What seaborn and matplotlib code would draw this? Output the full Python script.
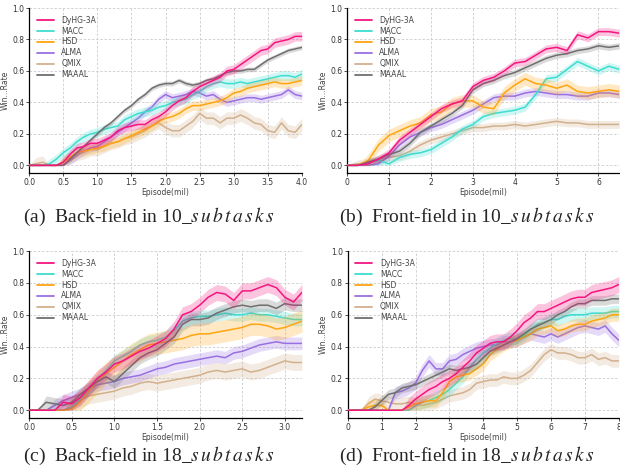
import numpy as np
import matplotlib
matplotlib.use("Agg")
import matplotlib.pyplot as plt
import seaborn as sns

METHODS = ["DyHG-3A", "MACC", "HSD", "ALMA", "QMIX", "MAAAL"]
COLORS = ["#f5157f", "#3fdcd0", "#ffa511", "#9a6fe0", "#d2b08c", "#6f6f6f"]

# ---------------- (a) Back-field in 10 subtasks ----------------
A_X = np.round(np.arange(0, 4.01, 0.1), 2)
A_DYHG = [0, 0, 0, 0, 0, .02, .07, .11, .12, .14, .14, .16, .18, .22, .24, .25, .26, .26, .29, .31,
          .34, .38, .41, .43, .47, .50, .52, .54, .56, .60, .61, .64, .67, .70, .73, .74, .78, .79, .80, .82, .82]
A_MACC = [0, 0, 0, .01, .04, .08, .11, .15, .18, .20, .21, .23, .24, .25, .29, .31, .33, .34, .35, .37,
          .38, .40, .41, .42, .45, .47, .50, .52, .53, .52, .52, .53, .52, .53, .54, .55, .56, .57, .57, .56, .58]
A_HSD = [0, 0, 0, 0, 0, .02, .05, .08, .09, .10, .11, .12, .14, .15, .17, .19, .21, .23, .25, .28,
         .30, .31, .33, .36, .38, .38, .39, .40, .41, .43, .46, .47, .49, .50, .51, .52, .53, .52, .52, .53, .54]
A_ALMA = [0, 0, 0, 0, 0, 0, .03, .06, .09, .11, .12, .15, .18, .21, .24, .27, .30, .34, .37, .42,
          .45, .43, .44, .45, .47, .46, .44, .45, .42, .40, .41, .42, .43, .43, .42, .43, .44, .45, .48, .45, .44]
A_QMIX = [0, .01, .02, 0, 0, .02, .05, .07, .08, .10, .10, .12, .14, .15, .17, .18, .20, .22, .25, .27,
          .24, .22, .22, .25, .28, .33, .30, .30, .27, .30, .30, .32, .30, .27, .26, .22, .21, .27, .22, .21, .26]
A_MAAAL = [0, 0, 0, 0, 0, 0, .04, .08, .12, .16, .20, .24, .27, .31, .35, .38, .42, .45, .49, .51,
           .52, .52, .54, .52, .51, .52, .54, .55, .57, .59, .60, .60, .61, .61, .64, .67, .69, .71, .73, .74, .75]
A_BAND = [.03, .03, .03, .025, .04, .015]

# ---------------- (b) Front-field in 10 subtasks ----------------
B_X = np.round(np.arange(0, 6.51, 0.25), 2)
B_DYHG = [0, 0, .01, .04, .08, .16, .21, .26, .31, .36, .39, .41, .50, .54, .56, .60, .65, .66, .70, .74,
          .75, .73, .83, .81, .85, .85, .84]
B_MACC = [0, 0, .02, .03, .01, .05, .07, .08, .10, .14, .18, .23, .26, .31, .33, .34, .35, .37, .45, .55,
          .56, .61, .66, .63, .60, .63, .61]
B_HSD = [0, 0, .03, .13, .19, .22, .25, .27, .32, .34, .39, .41, .41, .37, .36, .46, .51, .55, .52, .51,
         .49, .51, .47, .46, .47, .48, .47]
B_ALMA = [0, 0, 0, .01, .06, .13, .18, .21, .24, .26, .29, .32, .35, .39, .43, .44, .44, .46, .47, .46,
          .45, .45, .44, .44, .46, .46, .45]
B_QMIX = [0, .01, .02, .04, .05, .06, .09, .13, .16, .18, .20, .22, .24, .24, .25, .25, .26, .25, .26, .27,
          .28, .27, .27, .26, .26, .26, .26]
B_MAAAL = [0, 0, .02, .04, .07, .09, .14, .21, .25, .29, .33, .38, .48, .52, .54, .57, .59, .62, .65, .68,
           .70, .71, .73, .74, .76, .75, .76]
B_BAND = [.025, .025, .04, .025, .025, .02]

# ---------------- (c) Back-field in 18 subtasks ----------------
C_X = np.round(np.arange(0, 3.21, 0.1), 2)
C_DYHG = [0, 0, 0, 0, .05, .04, .08, .14, .20, .24, .29, .31, .34, .37, .39, .42, .45, .51, .60, .62,
          .66, .71, .74, .73, .69, .75, .75, .77, .79, .77, .71, .68, .74]
C_MACC = [0, 0, 0, 0, 0, .02, .07, .13, .19, .25, .31, .34, .37, .41, .43, .44, .46, .50, .56, .58,
          .59, .59, .60, .61, .60, .60, .61, .60, .60, .59, .58, .57, .57]
C_HSD = [0, 0, 0, 0, 0, .01, .05, .12, .18, .23, .27, .31, .35, .38, .41, .42, .43, .44, .45, .47,
         .48, .48, .49, .50, .51, .52, .54, .54, .53, .51, .52, .54, .56]
C_ALMA = [0, 0, 0, .03, .06, .08, .10, .13, .16, .17, .18, .20, .21, .22, .24, .26, .27, .29, .30, .31,
          .32, .33, .34, .33, .36, .37, .39, .41, .42, .43, .42, .42, .42]
C_QMIX = [0, 0, 0, 0, 0, .02, .06, .09, .10, .11, .12, .14, .15, .17, .18, .17, .18, .19, .20, .21,
          .22, .24, .25, .24, .25, .26, .24, .25, .27, .29, .31, .30, .30]
C_MAAAL = [0, 0, .05, .04, .03, .05, .10, .14, .18, .21, .18, .23, .28, .33, .36, .38, .42, .46, .54, .57,
           .57, .58, .61, .63, .65, .66, .65, .66, .66, .64, .67, .66, .66]
C_BAND = [.05, .04, .07, .04, .05, .04]

# ---------------- (d) Front-field in 18 subtasks ----------------
D_X = np.round(np.arange(0, 8.01, 0.2), 2)
D_DYHG = [0, 0, 0, 0, 0, 0, 0, 0, 0, .03, .07, .10, .13, .15, .18, .20, .23, .27, .31, .36,
          .39, .42, .43, .43, .46, .50, .55, .58, .62, .62, .64, .66, .68, .70, .71, .71, .74, .75, .76, .77, .79]
D_MACC = [0, 0, 0, 0, 0, 0, 0, 0, 0, 0, .03, .05, .06, .08, .10, .13, .17, .21, .27, .32,
          .36, .39, .42, .44, .45, .45, .47, .51, .54, .55, .57, .57, .59, .60, .60, .60, .61, .61, .61, .62, .62]
D_HSD = [0, 0, 0, .02, .03, .03, 0, 0, 0, .02, .04, .05, .06, .06, .11, .18, .21, .22, .23, .26,
         .29, .35, .38, .41, .43, .44, .46, .48, .51, .52, .53, .50, .51, .53, .54, .54, .56, .57, .58, .60, .60]
D_ALMA = [0, 0, 0, 0, 0, 0, 0, .11, .12, .14, .17, .25, .31, .26, .26, .31, .32, .35, .37, .39,
          .40, .41, .41, .43, .43, .44, .46, .48, .47, .46, .48, .46, .48, .50, .52, .53, .52, .51, .53, .48, .44]
D_QMIX = [0, 0, 0, .04, .07, .06, .05, .04, .04, .05, .04, .03, .04, .05, .07, .09, .10, .11, .13, .17,
          .18, .19, .19, .21, .20, .20, .22, .25, .30, .35, .38, .36, .36, .35, .33, .33, .35, .32, .33, .31, .31]
D_MAAAL = [0, 0, 0, 0, .02, .06, .10, .11, .14, .15, .16, .18, .20, .22, .24, .26, .25, .26, .27, .29,
           .33, .37, .39, .41, .43, .45, .48, .51, .53, .55, .57, .60, .62, .65, .67, .67, .69, .69, .69, .70, .70]
D_BAND = [.05, .04, .04, .04, .04, .03]

SUB = r"$s\,u\,b\,t\,a\,s\,k\,s$"
CAPTIONS = ["(a)  Back-field in 10$\\_$" + SUB, "(b)  Front-field in 10$\\_$" + SUB,
            "(c)  Back-field in 18$\\_$" + SUB, "(d)  Front-field in 18$\\_$" + SUB]

sns.set_theme(style="ticks")
plt.rcParams["font.family"] = ["DejaVu Sans"]
plt.rcParams["mathtext.fontset"] = "stix"

fig = plt.figure(figsize=(6.2, 4.72), dpi=100)

panels = [
    (A_X, [A_DYHG, A_MACC, A_HSD, A_ALMA, A_QMIX, A_MAAAL], A_BAND, (0, 4.0),
     [0, .5, 1, 1.5, 2, 2.5, 3, 3.5, 4.0], "%.1f", [0.047, 0.633, 0.440, 0.350]),
    (B_X, [B_DYHG, B_MACC, B_HSD, B_ALMA, B_QMIX, B_MAAAL], B_BAND, (0, 6.5),
     [0, 1, 2, 3, 4, 5, 6], "%d", [0.560, 0.633, 0.439, 0.350]),
    (C_X, [C_DYHG, C_MACC, C_HSD, C_ALMA, C_QMIX, C_MAAAL], C_BAND, (0, 3.2),
     [0, .5, 1, 1.5, 2, 2.5, 3], "%.1f", [0.047, 0.114, 0.440, 0.354]),
    (D_X, [D_DYHG, D_MACC, D_HSD, D_ALMA, D_QMIX, D_MAAAL], D_BAND, (0, 8),
     [0, 1, 2, 3, 4, 5, 6, 7, 8], "%d", [0.561, 0.114, 0.437, 0.354]),
]

zorders = [8, 5, 6, 4, 3, 7]
for (x, series, bands, xlim, xticks, fmt, rect) in panels:
    ax = fig.add_axes(rect)
    for name, y, w, c, z in zip(METHODS, series, bands, COLORS, zorders):
        y = np.asarray(y, dtype=float)
        m = (y > 0).astype(float)
        ax.fill_between(x, np.clip(y - w * m, 0, None), y + w * m, color=c, alpha=0.25, lw=0, zorder=z - 0.5)
        sns.lineplot(x=x, y=y, ax=ax, color=c, lw=1.1, label=name, zorder=z)
    ax.set_xlim(*xlim)
    ax.set_ylim(-0.05, 1.0)
    ax.set_xticks(xticks)
    ax.set_xticklabels([fmt % t for t in xticks])
    ax.set_yticks([0, .2, .4, .6, .8, 1.0])
    ax.set_yticklabels(["%.1f" % t for t in [0, .2, .4, .6, .8, 1.0]])
    ax.grid(True, ls=(0, (3, 2)), lw=0.6, color="#cccccc")
    ax.tick_params(labelsize=5.5, length=2, width=0.6, pad=1.5, colors="#333333")
    for s in ["top", "right"]:
        ax.spines[s].set_visible(False)
    for s in ["left", "bottom"]:
        ax.spines[s].set_color("black")
        ax.spines[s].set_linewidth(0.9)
    ax.set_xlabel("Episode(mil)", fontsize=5.5, color="#444444", labelpad=1)
    ax.set_ylabel("Win...Rate", fontsize=5.5, color="#444444", labelpad=2)
    leg = ax.legend(loc="upper left", frameon=False, fontsize=5.5, handlelength=2.2,
                    handletextpad=1.0, labelspacing=0.25, borderaxespad=0.6)
    for t in leg.get_texts():
        t.set_color("#444444")
    for l in leg.get_lines():
        l.set_linewidth(1.3)

cap_pos = [(0.240, 0.540), (0.752, 0.540), (0.240, 0.034), (0.752, 0.034)]
for (cx, cy), cap in zip(cap_pos, CAPTIONS):
    fig.text(cx, cy, cap, ha="center", va="center", fontsize=14, family="Liberation Serif")

fig.savefig("out.png", dpi=100)
